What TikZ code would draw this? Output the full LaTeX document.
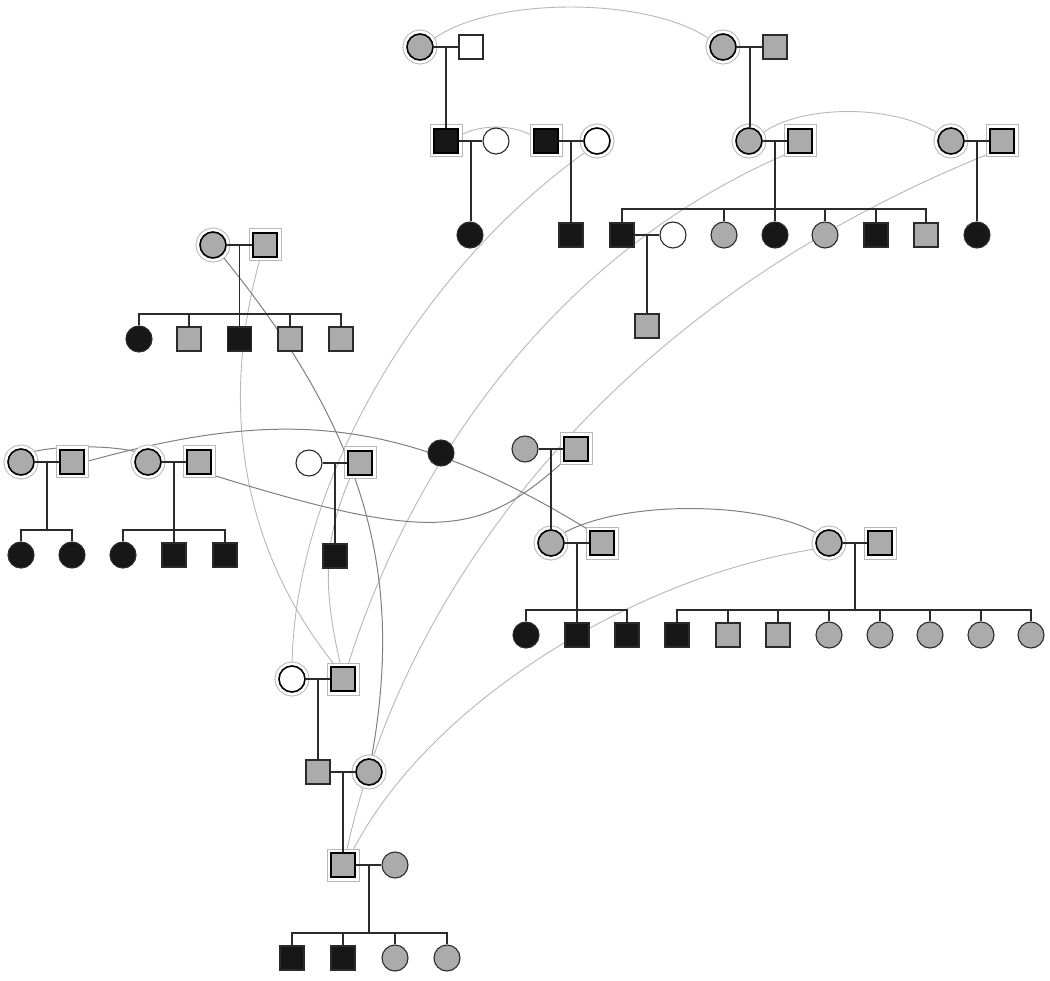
\documentclass[tikz,border=0pt]{standalone}
\usetikzlibrary{backgrounds}
\definecolor{heise}{gray}{0.09}
\definecolor{huise}{gray}{0.67}
\definecolor{xianse}{gray}{0.17}
\definecolor{qianlian}{gray}{0.72}
\definecolor{shenlian}{gray}{0.5}
\definecolor{huanse}{gray}{0.72}

\begin{document}
\begin{tikzpicture}[x=1pt,y=-1pt,
    nv/.style={circle,draw=xianse,line width=1.1pt,minimum size=26pt,inner sep=0pt},
    nan/.style={rectangle,draw=xianse,line width=1.1pt,minimum size=24pt,inner sep=0pt},
    hei/.style={fill=heise},
    hui/.style={fill=huise},
    bai/.style={fill=white},
    chong/.style={draw=black,line width=1.6pt,
      preaction={draw=huanse,line width=9pt},
      preaction={draw=white,line width=7pt}},
    jia/.style={draw=xianse,line width=1.8pt},
    qian/.style={draw=qianlian,line width=0.9pt},
    shen/.style={draw=shenlian,line width=1pt}]
  \useasboundingbox (0,0) rectangle (1050,981);
  % 第一代
  \node[nv,hui,chong] (a1f) at (420,47) {};
  \node[nan,bai] (a1m) at (471,47) {};
  \node[nv,hui,chong] (a2f) at (723,47) {};
  \node[nan,hui] (a2m) at (775,47) {};
  % 第二代
  \node[nan,hei,chong] (b1m) at (446,141) {};
  \node[nv,bai] (b1f) at (496,141) {};
  \node[nan,hei,chong] (b2m) at (546,141) {};
  \node[nv,bai,chong] (b2f) at (597,141) {};
  \node[nv,hui,chong] (b3f) at (749,141) {};
  \node[nan,hui,chong] (b3m) at (800,141) {};
  \node[nv,hui,chong] (b4f) at (951,141) {};
  \node[nan,hui,chong] (b4m) at (1002,141) {};
  % 第三代
  \node[nv,hei] (c1f) at (470,235) {};
  \node[nan,hei] (c2m) at (571,235) {};
  \node[nan,hei] (c3m) at (622,235) {};
  \node[nv,bai] (c3w) at (673,235) {};
  \node[nv,hui] (c4f) at (724,235) {};
  \node[nv,hei] (c5f) at (775,235) {};
  \node[nv,hui] (c6f) at (825,235) {};
  \node[nan,hei] (c7m) at (876,235) {};
  \node[nan,hui] (c8m) at (926,235) {};
  \node[nv,hei] (c9f) at (977,235) {};
  \node[nan,hui] (d1m) at (647,326) {};
  % 左上家庭
  \node[nv,hui,chong] (dpf) at (213,245) {};
  \node[nan,hui,chong] (dpm) at (265,245) {};
  \node[nv,hei] (dk1) at (139,339) {};
  \node[nan,hui] (dk2) at (189,339) {};
  \node[nan,hei] (dk3) at (239.5,339) {};
  \node[nan,hui] (dk4) at (290,339) {};
  \node[nan,hui] (dk5) at (341,339) {};
  % 中间一行
  \node[nv,hui,chong] (e1f) at (21,462) {};
  \node[nan,hui,chong] (e1m) at (72,462) {};
  \node[nv,hei] (e1k1) at (21,555) {};
  \node[nv,hei] (e1k2) at (72,555) {};
  \node[nv,hui,chong] (e2f) at (148,462) {};
  \node[nan,hui,chong] (e2m) at (199,462) {};
  \node[nv,hei] (e2k1) at (123,555) {};
  \node[nan,hei] (e2k2) at (174,555) {};
  \node[nan,hei] (e2k3) at (225,555) {};
  \node[nv,bai] (e3f) at (309,463) {};
  \node[nan,hui,chong] (e3m) at (360,463) {};
  \node[nan,hei] (e3k) at (335,556) {};
  \node[nv,hei] (e4f) at (441,453) {};
  \node[nv,hui] (e5f) at (525,449) {};
  \node[nan,hui,chong] (e5m) at (576,449) {};
  \node[nv,hui,chong] (f1f) at (551,543) {};
  \node[nan,hui,chong] (f1m) at (602,543) {};
  \node[nv,hei] (f1k1) at (526,635) {};
  \node[nan,hei] (f1k2) at (577,635) {};
  \node[nan,hei] (f1k3) at (627,635) {};
  \node[nv,hui,chong] (f2f) at (829,543) {};
  \node[nan,hui,chong] (f2m) at (880,543) {};
  \node[nan,hei] (f2k0) at (677,635) {};
  \foreach \i/\x in {1/728,2/778}
    \node[nan,hui] (f2k\i) at (\x,635) {};
  \foreach \i/\x in {3/829,4/880,5/930,6/981,7/1031}
    \node[nv,hui] (f2k\i) at (\x,635) {};
  % 下方
  \node[nv,bai,chong] (g1f) at (292,679) {};
  \node[nan,hui,chong] (g1m) at (343,679) {};
  \node[nan,hui] (g2m) at (318,772) {};
  \node[nv,hui,chong] (g2f) at (369,772) {};
  \node[nan,hui,chong] (g3m) at (343,865) {};
  \node[nv,hui] (g3f) at (395,865) {};
  \node[nan,hei] (g3k1) at (292,958) {};
  \node[nan,hei] (g3k2) at (343,958) {};
  \node[nv,hui] (g3k3) at (395,958) {};
  \node[nv,hui] (g3k4) at (447,958) {};
  % 婚配线
  \foreach \ren/\pei/\zu in {a1f/a1m/a1,a2f/a2m/a2,b1m/b1f/b1,b2m/b2f/b2,b3f/b3m/b3,
      b4f/b4m/b4,c3m/c3w/c3,dpf/dpm/dp,e1f/e1m/e1,e2f/e2m/e2,e3f/e3m/e3,
      e5f/e5m/e5,f1f/f1m/f1,f2f/f2m/f2,g1f/g1m/g1,g2m/g2f/g2,g3m/g3f/g3}
    \draw[jia] (\ren) -- coordinate (\zu) (\pei);
  % 子女线
  \foreach \zu/\zi in {a1/b1m,a2/b3f,b1/c1f,b2/c2m,b4/c9f,c3/d1m,e3/e3k,e5/f1f,g1/g2m,g2/g3m}
    \draw[jia] (\zu) -- (\zu |- \zi.north);
  \foreach \zu/\gao/\zuo/\you in {b3/209/c3m/c8m,dp/314/dk1/dk5,e1/530/e1k1/e1k2,
      e2/530/e2k1/e2k3,f1/610/f1k1/f1k3,f2/610/f2k0/f2k7,g3/933/g3k1/g3k4}
    \draw[jia] (\zu) -- (\zu |- 0,\gao) (\zuo.north) -- (\zuo |- 0,\gao)
      -- (\you |- 0,\gao) -- (\you.north);
  \foreach \zi/\gao in {c4f/209,c5f/209,c6f/209,c7m/209,dk2/314,dk3/314,dk4/314,
      e2k2/530,f1k2/610,f2k1/610,f2k2/610,f2k3/610,f2k4/610,f2k5/610,f2k6/610,
      g3k2/933,g3k3/933}
    \draw[jia] (\zi.north) -- (\zi |- 0,\gao);
  % 同一人之间的连线
  \begin{scope}[on background layer]
    \fill[white] (0,0) rectangle (1050,981);
    \draw[qian] (a1f.30) .. controls (490,-4) and (650,-4) .. (a2f.150);
    \draw[qian] (b1m.20) .. controls (478,124) and (514,124) .. (b2m.160);
    \draw[qian] (b3f.30) .. controls (800,104) and (895,104) .. (b4f.150);
    \draw[qian] (b2f.225) .. controls (420,270) and (295,480) .. (g1f.north);
    \draw[qian] (b3m.south west) .. controls (540,260) and (403,487) .. (g1m.70);
    \draw[qian] (b4m.south west) .. controls (600,310) and (400,600) .. (g3m.75);
    \draw[qian] (f2f.205) .. controls (640,575) and (430,700) .. (g3m.55);
    \draw[qian] (dpm.-110) .. controls (215,420) and (250,560) .. (g1m.120);
    \draw[qian] (e3m.-125) .. controls (320,546) and (325,596) .. (g1m.100);
    \draw[shen] (dpf.-50) .. controls (369,436) and (404,578) .. (g2f.80);
    \draw[shen] (e1f.45) .. controls (60,445) and (110,445) .. (e2f.135);
    \draw[shen] (e1m.east) .. controls (280,408) and (400,414) .. (f1m.north west);
    \draw[shen] (e2m.south east) .. controls (435,544) and (480,536) .. (e5m.south west);
    \draw[shen] (f1f.40) .. controls (620,500) and (760,500) .. (f2f.140);
  \end{scope}
\end{tikzpicture}
\end{document}
